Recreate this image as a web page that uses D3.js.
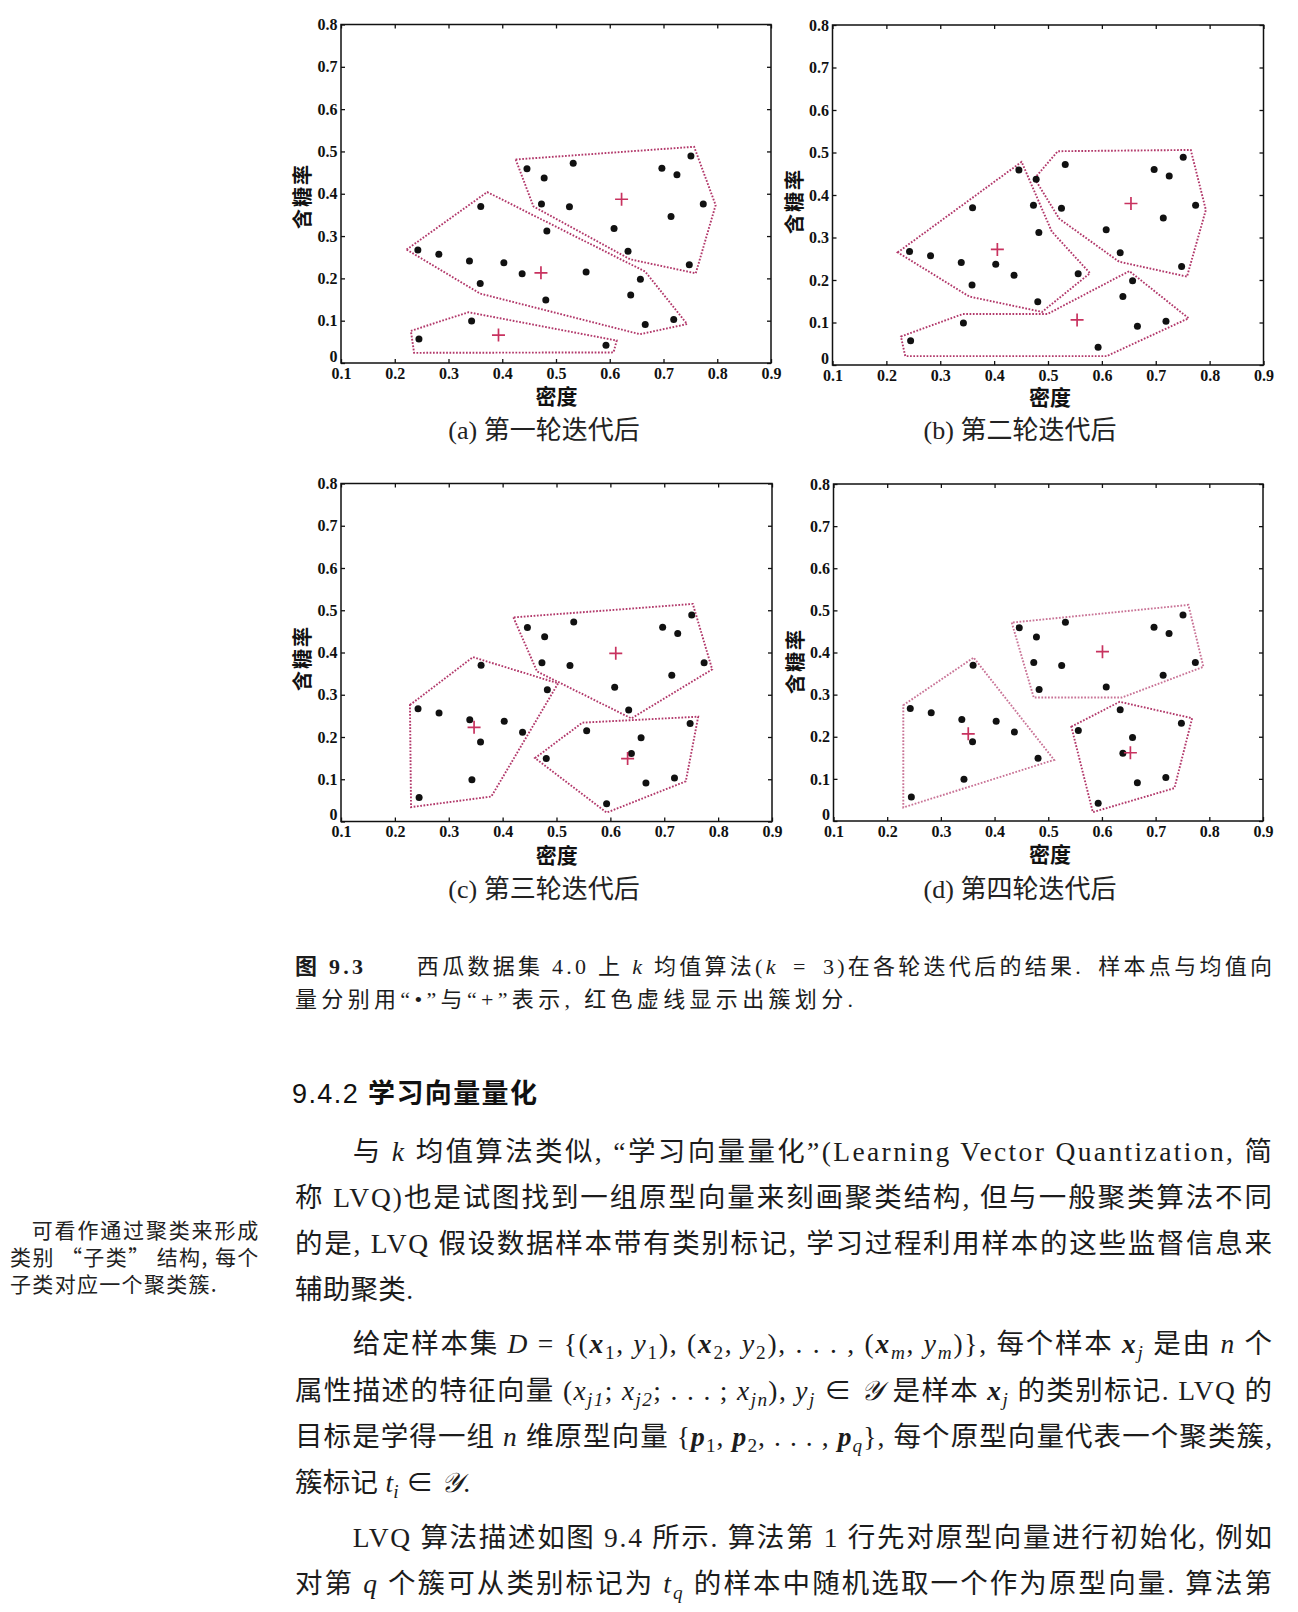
<!DOCTYPE html>
<html><head><meta charset="utf-8">
<script src="https://cdn.jsdelivr.net/npm/d3@7"></script>
<style>
html,body{margin:0;padding:0;background:#fff;}
svg{display:block;}
text{white-space:pre;}
</style></head><body>
<svg id="page" width="1298" height="1612"></svg>
<script>
// ---------- data (watermelon dataset 4.0) ----------
const density = [0.697,0.774,0.634,0.608,0.556,0.403,0.481,0.437,0.666,0.243,0.245,0.343,0.639,0.657,0.360,0.593,0.719,0.359,0.339,0.282,0.748,0.714,0.483,0.478,0.525,0.751,0.532,0.473,0.725,0.446];
const sugar   = [0.460,0.376,0.264,0.318,0.215,0.237,0.149,0.211,0.091,0.267,0.057,0.099,0.161,0.198,0.370,0.042,0.103,0.188,0.241,0.257,0.232,0.346,0.312,0.437,0.369,0.489,0.472,0.376,0.445,0.459];

const xTickValues = [0.1,0.2,0.3,0.4,0.5,0.6,0.7,0.8,0.9];
const yTickValues = [0,0.1,0.2,0.3,0.4,0.5,0.6,0.7,0.8];
const xTitle = "密度";
const yTitle = "含糖率";
const panelTitles = ["(a) 第一轮迭代后","(b) 第二轮迭代后","(c) 第三轮迭代后","(d) 第四轮迭代后"];

const meansA = [[0.622,0.387],[0.472,0.213],[0.393,0.066]];
const meansB = [[0.654,0.380],[0.406,0.272],[0.554,0.106]];
const meansC = [[0.610,0.398],[0.347,0.223],[0.632,0.149]];
const meansD = [[0.601,0.402],[0.351,0.207],[0.653,0.162]];

const hullsA = [
  [[0.425,0.481],[0.458,0.370],[0.638,0.245],[0.760,0.212],[0.797,0.373],[0.757,0.511]],
  [[0.222,0.268],[0.372,0.404],[0.666,0.216],[0.744,0.092],[0.656,0.068],[0.359,0.164]],
  [[0.230,0.076],[0.337,0.120],[0.613,0.053],[0.607,0.025],[0.236,0.024]]
];
const hullsB = [
  [[0.475,0.439],[0.518,0.503],[0.765,0.506],[0.793,0.365],[0.758,0.208],[0.632,0.243],[0.521,0.344]],
  [[0.221,0.265],[0.451,0.478],[0.507,0.314],[0.578,0.216],[0.489,0.125],[0.354,0.161]],
  [[0.227,0.067],[0.342,0.120],[0.499,0.120],[0.651,0.221],[0.761,0.110],[0.609,0.021],[0.235,0.021]]
];
const hullsC = [
  [[0.420,0.483],[0.464,0.355],[0.639,0.244],[0.789,0.360],[0.753,0.515]],
  [[0.228,0.276],[0.345,0.389],[0.503,0.327],[0.379,0.059],[0.230,0.034]],
  [[0.460,0.150],[0.548,0.234],[0.763,0.248],[0.740,0.095],[0.593,0.021]]
];
const hullsD = [
  [[0.432,0.471],[0.473,0.293],[0.637,0.293],[0.789,0.366],[0.761,0.513]],
  [[0.230,0.275],[0.361,0.388],[0.511,0.145],[0.230,0.032]],
  [[0.543,0.224],[0.633,0.283],[0.768,0.244],[0.735,0.078],[0.583,0.021]]
];

// ---------- layout / style (not data) ----------
const panels = [
  {x:341,   y:24.5, w:430,   h:338.5, xt:[556.5,394.5], yt:[301.7,196], cap:[544,439], means:meansA, hulls:hullsA, op:[1,1,1]},
  {x:832.5, y:25,   w:431,   h:340,   xt:[1050,396],    yt:[793.3,201], cap:[1020,439], means:meansB, hulls:hullsB, op:[1,1,1]},
  {x:341,   y:483.5,w:431,   h:338,   xt:[556.7,853.5], yt:[301.7,658], cap:[544,898], means:meansC, hulls:hullsC, op:[1,1,1]},
  {x:833.5, y:484,  w:429.5, h:337,   xt:[1050,852.5],  yt:[794,661],   cap:[1020,898], means:meansD, hulls:hullsD, op:[0.7,0.7,1]}
];
const HULL_COLOR = "#b2386a";
const MEAN_COLOR = "#c8325f";
const SERIF = "'Liberation Serif','Noto Sans CJK SC',serif";
const CJK = "'Noto Sans CJK SC','Liberation Serif',sans-serif";

const svg = d3.select("#page");
svg.append("rect").attr("width",1298).attr("height",1612).attr("fill","#fff");

const pts = density.map((d,i)=>[d, sugar[i]]);

panels.forEach((p,pi)=>{
  const x = d3.scaleLinear().domain([0.1,0.9]).range([p.x, p.x+p.w]);
  const y = d3.scaleLinear().domain([0,0.8]).range([p.y+p.h, p.y]);
  const g = svg.append("g");
  const fmt = v => v===0 ? "0" : d3.format(".1f")(v);

  const ax = [
    g.append("g").attr("transform",`translate(0,${p.y+p.h})`).call(d3.axisBottom(x).tickValues(xTickValues).tickSize(-4).tickPadding(4.5).tickFormat(fmt)),
    g.append("g").attr("transform",`translate(${p.x},0)`).call(d3.axisLeft(y).tickValues(yTickValues).tickSize(-4).tickPadding(3.5).tickFormat(fmt)),
    g.append("g").attr("transform",`translate(0,${p.y})`).call(d3.axisTop(x).tickValues(xTickValues).tickSize(-4).tickFormat("")),
    g.append("g").attr("transform",`translate(${p.x+p.w},0)`).call(d3.axisRight(y).tickValues(yTickValues).tickSize(-4).tickFormat(""))
  ];
  ax.forEach(a=>{
    a.attr("font-size",null).attr("font-family",null);
    a.select(".domain").remove();
    a.selectAll(".tick line").attr("stroke","#111").attr("stroke-width",1.3);
    a.selectAll("text").attr("font-family",SERIF).attr("font-weight","bold").attr("font-size",16).attr("fill","#111");
  });
  // lift the "0" label a little so it clears the x labels
  ax[1].selectAll(".tick text").filter(d=>d===0).attr("dy","-0.12em");

  g.append("rect").attr("x",p.x).attr("y",p.y).attr("width",p.w).attr("height",p.h)
    .attr("fill","none").attr("stroke","#111").attr("stroke-width",1.5);

  // cluster hulls
  const line = d3.line().x(d=>x(d[0])).y(d=>y(d[1])).curve(d3.curveLinearClosed);
  g.selectAll("path.hull").data(p.hulls).join("path").attr("class","hull")
    .attr("d",line).attr("fill","none").attr("stroke",HULL_COLOR)
    .attr("stroke-opacity",(d,i)=>p.op[i])
    .attr("stroke-width",1.9).attr("stroke-dasharray","1.7 1.6");

  // samples
  g.selectAll("circle").data(pts).join("circle")
    .attr("cx",d=>x(d[0])).attr("cy",d=>y(d[1])).attr("r",3.5).attr("fill","#111");

  // means
  g.selectAll("path.mean").data(p.means).join("path").attr("class","mean")
    .attr("d",d=>`M${x(d[0])-6.5},${y(d[1])}H${x(d[0])+6.5}M${x(d[0])},${y(d[1])-6.5}V${y(d[1])+6.5}`)
    .attr("stroke",MEAN_COLOR).attr("stroke-width",1.7).attr("fill","none");

  // titles
  g.append("text").attr("x",p.xt[0]).attr("y",p.xt[1]).attr("text-anchor","middle").attr("dominant-baseline","central")
    .attr("font-family",CJK).attr("font-weight","bold").attr("font-size",21).attr("fill","#111").text(xTitle);
  g.append("text").attr("transform",`translate(${p.yt[0]},${p.yt[1]}) rotate(-90)`)
    .attr("text-anchor","middle").attr("dominant-baseline","central").attr("letter-spacing",2)
    .attr("font-family",CJK).attr("font-weight","bold").attr("font-size",20).attr("fill","#111").text(yTitle);
  const cap = g.append("text").attr("x",p.cap[0]).attr("y",p.cap[1]).attr("text-anchor","middle")
    .attr("font-size",26).attr("fill","#222");
  const parts = panelTitles[pi].split(" ");
  cap.append("tspan").attr("font-family",SERIF).text(parts[0]+" ");
  cap.append("tspan").attr("font-family",CJK).text(parts[1]);
});

// ---------- text block ----------
function textLine(x, y, width, segs, size, family, color) {
  const t = svg.append("text").attr("x",x).attr("y",y).attr("font-size",size)
    .attr("font-family",family).attr("fill",color||"#1c1c1c");
  if (width) t.attr("textLength",width).attr("lengthAdjust","spacing");
  let shift = 0;
  segs.forEach(([s,k])=>{
    const ts = t.append("tspan").text(s);
    const isSub = k==="sub"||k==="subi";
    const target = isSub ? size*0.22 : 0;
    if (target!==shift){ ts.attr("dy", target-shift); shift = target; }
    if (k==="i"||k==="subi") ts.attr("font-style","italic").attr("font-family",SERIF);
    if (k==="bi") ts.attr("font-style","italic").attr("font-weight","bold").attr("font-family",SERIF);
    if (k==="b") ts.attr("font-weight","bold");
    if (k==="bs") ts.attr("font-weight","bold").attr("font-family",SERIF);
    if (k==="h") ts.attr("font-family","'Liberation Sans',sans-serif");
    if (k==="cal") ts.attr("font-style","italic").attr("font-family",SERIF);
    if (isSub) ts.attr("font-size",size*0.7);
  });
  return t;
}

// figure caption
textLine(295, 974, 977, [["图","b"],[" "],["9.3","bs"],["\u2003\u2003西瓜数据集 4.0 上 "],["k","i"],[" 均值算法("],["k","i"],["\u2002=\u20023)在各轮迭代后的结果.\u2002样本点与均值向"]].map(s=>[s[0],s[1]||"r"]), 22, SERIF);
textLine(295, 1007, 558, [["量分别用“•”与“+”表示, 红色虚线显示出簇划分.","r"]], 22, SERIF);

// section heading
textLine(292, 1103, 245, [["9.4.2 ","h"],["学习向量量化","b"]], 27, CJK, "#111");

// margin note
textLine(31.7, 1238, 226.6, [["可看作通过聚类来形成","r"]], 21, CJK, "#222");
textLine(10, 1265, 248.3, [["类别 “子类” 结构, 每个","r"]], 21, CJK, "#222");
textLine(10, 1292, 206.7, [["子类对应一个聚类簇.","r"]], 21, CJK, "#222");

const BODY = 27.5, L = 295, R = 1272, IND = 352.7;
const para = [
  [IND, 1160.5, [["与 ","r"],["k","i"],[" 均值算法类似, “学习向量量化”(Learning Vector Quantization, 简","r"]]],
  [L, 1206.5, [["称 LVQ)也是试图找到一组原型向量来刻画聚类结构, 但与一般聚类算法不同","r"]]],
  [L, 1252.5, [["的是, LVQ 假设数据样本带有类别标记, 学习过程利用样本的这些监督信息来","r"]]],
  [L, 1298.5, [["辅助聚类.","r"]], 118],
  [IND, 1353.3, [["给定样本集 ","r"],["D","i"],[" = {(","r"],["x","bi"],["1","sub"],[", ","r"],["y","i"],["1","sub"],["), (","r"],["x","bi"],["2","sub"],[", ","r"],["y","i"],["2","sub"],["), . . . , (","r"],["x","bi"],["m","subi"],[", ","r"],["y","i"],["m","subi"],[")}, 每个样本 ","r"],["x","bi"],["j","subi"],[" 是由 ","r"],["n","i"],[" 个","r"]]],
  [L, 1399.5, [["属性描述的特征向量 (","r"],["x","i"],["j1","subi"],["; ","r"],["x","i"],["j2","subi"],["; . . . ; ","r"],["x","i"],["jn","subi"],["), ","r"],["y","i"],["j","subi"],[" ∈ ","r"],["𝒴","cal"],[" 是样本 ","r"],["x","bi"],["j","subi"],[" 的类别标记. LVQ 的","r"]]],
  [L, 1445.5, [["目标是学得一组 ","r"],["n","i"],[" 维原型向量 {","r"],["p","bi"],["1","sub"],[", ","r"],["p","bi"],["2","sub"],[", . . . , ","r"],["p","bi"],["q","subi"],["}, 每个原型向量代表一个聚类簇,","r"]]],
  [L, 1491.7, [["簇标记 ","r"],["t","i"],["i","subi"],[" ∈ ","r"],["𝒴","cal"],[".","r"]], 175],
  [IND, 1546.7, [["LVQ 算法描述如图 9.4 所示. 算法第 1 行先对原型向量进行初始化, 例如","r"]]],
  [L, 1592.5, [["对第 ","r"],["q","i"],[" 个簇可从类别标记为 ","r"],["t","i"],["q","subi"],[" 的样本中随机选取一个作为原型向量. 算法第","r"]]]
];
para.forEach(([x0,y0,segs,w])=>{
  textLine(x0, y0, w || (R - x0), segs, BODY, SERIF);
});
</script>
</body></html>
